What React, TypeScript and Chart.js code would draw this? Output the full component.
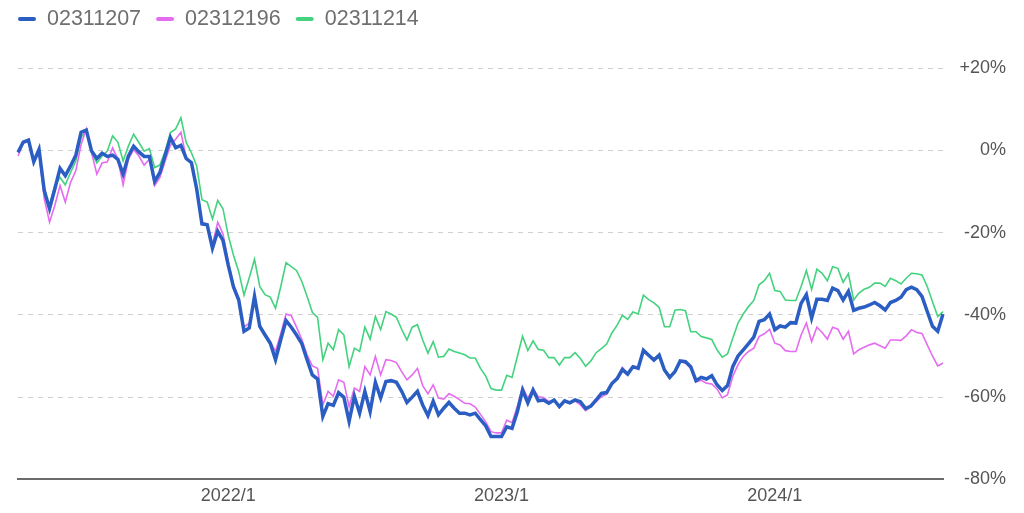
import React, { useEffect, useRef } from "react";
import { Chart, registerables } from "chart.js";

Chart.register(...registerables);

const SERIES_NAMES = ["02311207", "02312196", "02311214"];
const SERIES_COLORS = ["#2b5ec2", "#e56cf0", "#44d27f"];
const START_DATE = "2021-04-02";
const Y_TICKS = [20, 0, -20, -40, -60, -80];

const BLUE = [
  -0.5, 2, 2.5, -2.8, 0.2, -9.8, -14.2, -9.4, -4.4, -6.2, -3.8, -1.2, 4.4, 4.9, -0.2, -2, -0.7, -1.5, -1.2, -2.2,
  -5.8, -1.4, 1, -0.4, -1.5, -1.5, -7.6, -5.4, -1.2, 3.1, 0.6, 1.2, -2, -3, -9.4, -17.9, -18.1, -23.8, -19.7, -21.9,
  -27.9, -33.2, -36.4, -44, -43.2,
  -35.5, -42.8, -44.9, -46.9, -50.9, -46, -41.4, -43, -44.9, -47, -50.9, -54.6, -55.6, -64.7, -61.6, -62, -58.9, -60,
  -65.9, -59.8, -63.9, -58.6, -63.5, -56.4, -60.2, -56.2, -56, -56.4, -58.6, -61.3, -60, -58.6, -61.9, -64.5, -61,
  -64.3, -62.7, -61.3, -62.7, -63.9, -63.9, -64.3, -63.9, -65.5,
  -67, -69.6, -69.6, -69.6, -67.2, -67.6, -63.6, -58.3, -61.4, -58.3, -60.9, -60.7, -61.5, -60.7, -62.3, -60.9,
  -61.4, -60.7, -61.1, -62.8, -62.2, -60.7, -59.1, -58.9, -56.7, -55.5, -53.3, -54.4, -52.6, -53, -48.6, -49.8, -51,
  -49.8, -53.4, -55.2, -53.8, -51.2, -51.4, -52.6, -56, -55.2, -55.6, -54.8,
  -57, -58.4, -57.2, -52.6, -50, -48.5, -47, -45.4, -41.6, -41.2, -39.8, -43.6, -42.7, -43, -41.9, -42, -37.2, -35.1,
  -40.8, -36.2, -36.2, -36.5, -33.5, -34.1, -36.4, -34.3, -38.9, -38.4, -38.1, -37.6, -37, -37.8, -38.8, -37, -36.5,
  -35.7, -33.9, -33.3, -33.9, -35.5, -39.2, -42.8, -44, -39.8,
];

const PINK = [
  -1.4, 1.7, 2.2, -2.6, -0.6, -11.8, -17.5, -13.4, -8.6, -12.6, -7.8, -5, 1.4, 5.2, -0.6, -5.8, -3.1, -2.8, 0.6, -2.2,
  -8.4, -2.2, 0.2, -1.4, -3.6, -2.2, -8.6, -6.6, -2.6, 1.2, 2.7, 4.4, -1.8, -3.1, -9, -17.5, -17.9, -22.9, -17.5,
  -20.3, -27.1, -32.7, -36, -43, -42,
  -36, -42.4, -44.5, -46.5, -48.9, -44.5, -39.8, -40.2, -43, -46, -49.7, -52.4, -53, -61.9, -58.6, -59.8, -55.8,
  -56.4, -62.3, -57.8, -58.6, -52.6, -54.6, -50.1, -54.6, -50.9, -51.1, -51.6, -53.8, -55.8, -54.6, -53, -57.2,
  -59.2, -57, -60.2, -60.5, -59.2, -59.8, -60.6, -61.5, -61.6, -62.4, -64.2,
  -66, -68.4, -68.7, -68.7, -65.6, -66.2, -62.3, -57.5, -60.3, -57.9, -59.9, -60.1, -61.1, -60.7, -62.5, -61.1,
  -61.4, -60.9, -61.9, -63.3, -62.3, -61.1, -59.9, -59.3, -56.7, -55.2, -52.8, -54.3, -52.5, -52.6, -49, -50, -50.6,
  -50, -53.4, -55.2, -54.1, -51.4, -51.7, -53, -56.3, -55.9, -56.6, -56.8,
  -58, -60.2, -59.4, -55, -52.1, -50.1, -48.9, -48.1, -45.3, -44.6, -43.5, -46.9, -47.3, -48.7, -48.9, -48.9, -44.9,
  -42, -46.5, -43, -44.3, -45.9, -43, -43.5, -45.9, -44, -49.5, -48.5, -47.9, -47.3, -46.9, -47.5, -48.1, -46.1,
  -46.1, -46.2, -45.1, -43.6, -44.3, -44.5, -47.3, -50, -52.4, -51.7,
];

const GREEN = [
  -0.5, 1.8, 2.5, -2.6, 0, -10.6, -13.3, -8.6, -6.6, -8.4, -5.4, -2.6, 3.1, 4.9, -0.6, -3.1, -1.4, -0.2, 3.5, 2,
  -2.6, 1, 3.9, 1.9, -0.2, 0.4, -4.2, -3.6, -0.2, 4.3, 5.2, 7.9, 1.9, -0.6, -3.8, -12, -12.6, -16.7, -12.2, -14.2,
  -20.7, -25.5, -29.5, -35.2, -31,
  -26.5, -33.1, -35.1, -35.7, -38.4, -33.1, -27.3, -28.3, -29.2, -31.9, -35.5, -39.4, -40.6, -50.9, -46.9, -48.5,
  -43.6, -44.9, -52.6, -48.1, -48.9, -43, -45.9, -40.4, -43.6, -39.2, -39.8, -40.6, -43.5, -46.1, -43, -42.4, -46.1,
  -49.3, -46.5, -50.3, -50.1, -48.3, -48.9, -49.3, -49.7, -50.5, -50.5, -53,
  -54.9, -57.9, -58.3, -58.3, -54.7, -55.2, -50.2, -45.2, -48.7, -46.3, -48.4, -48.6, -50.4, -50.4, -52.2, -50.4,
  -50.4, -49.2, -50.6, -52.5, -51.2, -49.2, -48.2, -47.1, -44.4, -42.5, -40.1, -41.1, -39.3, -39.8, -35.2, -36.3,
  -37.1, -38.2, -42.9, -42.9, -38.9, -38.7, -39, -44.1, -44.1, -45.3, -45.6, -46,
  -48.5, -50.3, -49.5, -45.7, -42, -39.8, -38, -36.5, -32.7, -31.7, -29.9, -34.1, -34.3, -36.4, -36.5, -36.5, -33.1,
  -29.2, -33.8, -28.9, -29.9, -31.7, -28.3, -28.7, -32.1, -30, -36.4, -34.7, -33.8, -33.3, -32.3, -32.3, -33.1,
  -31.1, -31.7, -32.5, -31.1, -29.9, -30, -30.3, -33.1, -36.8, -40.4, -39.2,
];

function weeklyDates(start: string, n: number): Date[] {
  const d0 = new Date(start + "T00:00:00Z");
  const out: Date[] = [];
  for (let i = 0; i < n; i++) out.push(new Date(d0.getTime() + i * 7 * 86400000));
  return out;
}

const DATES = weeklyDates(START_DATE, BLUE.length);
const LABELS = DATES.map((d) => `${d.getUTCFullYear()}/${d.getUTCMonth() + 1}/${d.getUTCDate()}`);

const FONT = "'Liberation Sans', Arial, Helvetica, sans-serif";

const legendPlugin = {
  id: "topLegend",
  afterDraw(chart: any) {
    const ctx = chart.ctx;
    ctx.save();
    ctx.font = `21.5px ${FONT}`;
    ctx.textBaseline = "middle";
    ctx.textAlign = "left";
    let x = 10;
    const y = 11;
    chart.data.datasets.forEach((ds: any) => {
      ctx.beginPath();
      ctx.lineCap = "round";
      ctx.strokeStyle = ds.borderColor;
      ctx.lineWidth = 4;
      ctx.moveTo(x + 2, y);
      ctx.lineTo(x + 16, y);
      ctx.stroke();
      x += 18 + 11;
      ctx.fillStyle = "#6f6f6f";
      ctx.fillText(ds.label, x, y);
      x += ctx.measureText(ds.label).width + 15;
    });
    ctx.restore();
  },
};

export default function App() {
  const ref = useRef<HTMLCanvasElement | null>(null);

  useEffect(() => {
    if (!ref.current) return;
    const seriesData = [BLUE, PINK, GREEN];
    const widths = [3.5, 1.6, 1.6];
    const chart = new Chart(ref.current, {
      type: "line",
      data: {
        labels: LABELS,
        datasets: SERIES_NAMES.map((name, i) => ({
          label: name,
          data: seriesData[i],
          borderColor: SERIES_COLORS[i],
          backgroundColor: SERIES_COLORS[i],
          borderWidth: widths[i],
          pointRadius: 0,
          tension: 0,
          fill: false,
        })),
      },
      plugins: [legendPlugin],
      options: {
        responsive: true,
        maintainAspectRatio: false,
        animation: false,
        layout: { padding: { left: 10, right: 10, top: 60, bottom: 0 } },
        plugins: {
          tooltip: { enabled: false },
          legend: { display: false },
        },
        scales: {
          x: {
            type: "category",
            grid: { display: false, drawTicks: false },
            border: { display: true, color: "#6b6b6b", width: 2 },
            ticks: {
              autoSkip: false,
              maxRotation: 0,
              minRotation: 0,
              padding: 6,
              color: "#555",
              font: { family: FONT, size: 18 },
              callback: (_v: any, idx: number) => {
                const d = DATES[idx];
                if (!d) return "";
                if (d.getUTCMonth() === 0 && d.getUTCDate() <= 7) return `${d.getUTCFullYear()}/1`;
                return "";
              },
            },
          },
          y: {
            position: "right",
            min: -80,
            max: 20,
            afterBuildTicks: (axis: any) => {
              axis.ticks = Y_TICKS.map((v) => ({ value: v }));
            },
            afterFit: (axis: any) => {
              axis.width = 63;
            },
            grid: {
              color: (ctx: any) => (ctx.tick && ctx.tick.value === -80 ? "rgba(0,0,0,0)" : "#cfcfcf"),
              drawTicks: false,
              lineWidth: 1,
            },
            border: { display: false, dash: [5, 5] },
            ticks: {
              padding: 17,
              crossAlign: "far",
              color: "#555",
              font: { family: FONT, size: 18 },
              callback: (v: any) => (Number(v) > 0 ? `+${v}%` : `${v}%`),
            },
          },
        },
      } as any,
    });
    return () => chart.destroy();
  }, []);

  return (
    <div style={{ position: "relative", width: "100%", height: "505px", marginBottom: "-8px" }}>
      <canvas ref={ref} />
    </div>
  );
}
